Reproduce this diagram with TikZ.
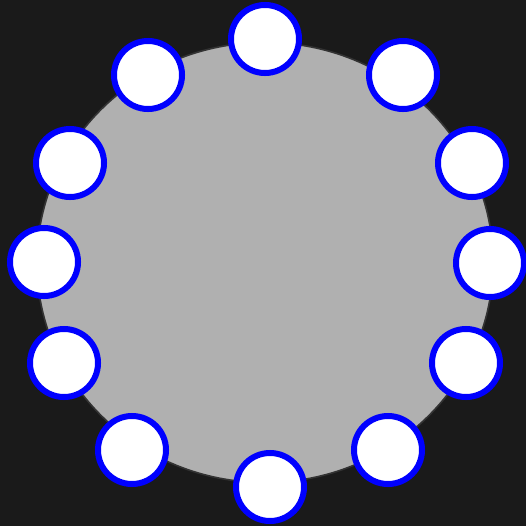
\documentclass[tikz,border=0pt]{standalone}
\usepackage{tikz}
\usetikzlibrary{shapes.geometric}
\definecolor{bgdark}{HTML}{1A1A1A}
\definecolor{discgray}{HTML}{B0B0B0}
\definecolor{rimgray}{HTML}{333333}
\begin{document}
\begin{tikzpicture}[x=0.025cm, y=-0.025cm,
  seat/.style={circle, draw=blue, line width=0.15cm, fill=white, inner sep=0pt, minimum size=1.7cm}]

\fill[bgdark] (0,0) rectangle (526,526);
\useasboundingbox (0,0) rectangle (526,526);

% the table
\node[ellipse, draw=rimgray, line width=0.04cm, fill=discgray, inner sep=0pt,
  minimum width=11.4cm, minimum height=11cm] (table) at (265,262.5) {};

% the seats
\node[seat] (s1) at (265,39) {};
\node[seat] (s2) at (403,75) {};
\node[seat] (s3) at (472,163) {};
\node[seat] (s4) at (490,263) {};
\node[seat] (s5) at (466,363) {};
\node[seat] (s6) at (388,450) {};
\node[seat] (s7) at (270,487) {};
\node[seat] (s8) at (132,450) {};
\node[seat] (s9) at (64,363) {};
\node[seat] (s10) at (44,262) {};
\node[seat] (s11) at (70,163) {};
\node[seat] (s12) at (148,75) {};

\end{tikzpicture}
\end{document}
